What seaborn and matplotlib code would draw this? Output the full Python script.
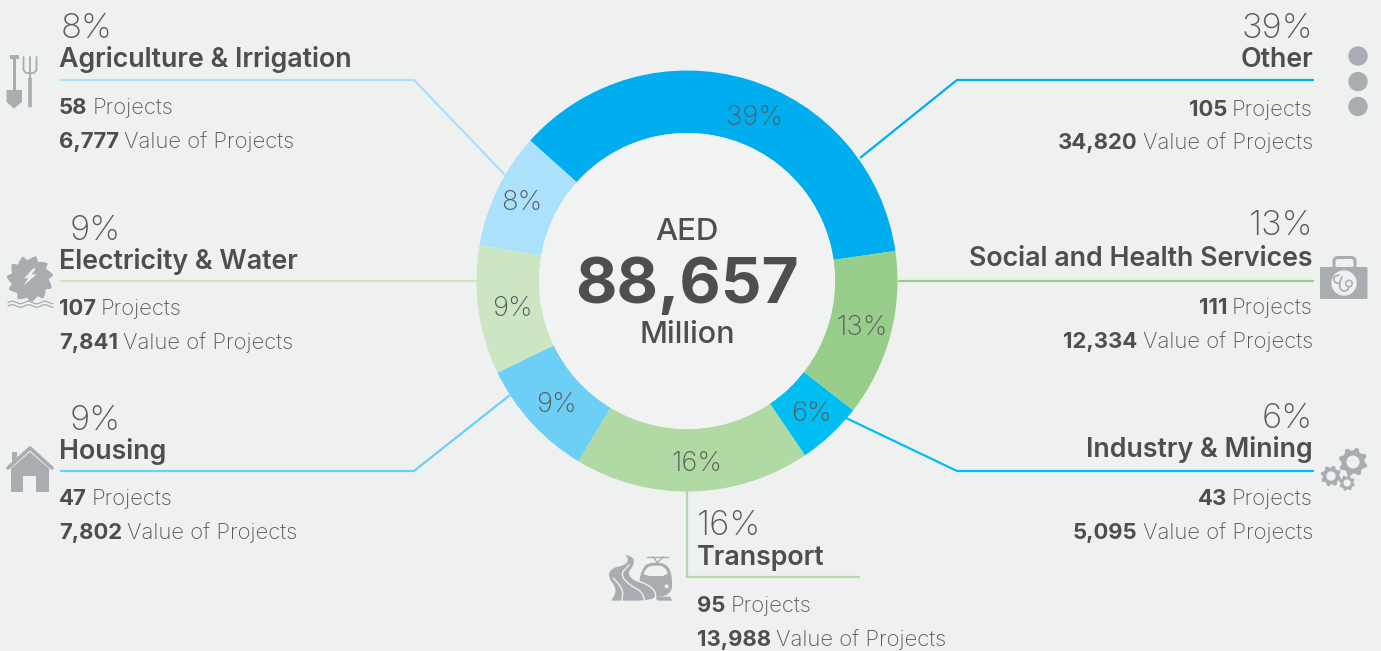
import numpy as np
from matplotlib import pyplot as plt
from matplotlib.patches import Circle, Polygon, Rectangle, FancyBboxPatch
import seaborn as sns

# ring order, counter clockwise from the right
sectors = ['Other', 'Agriculture & Irrigation', 'Electricity & Water', 'Housing',
           'Transport', 'Industry & Mining', 'Social and Health Services']
pct_labels = ['39%', '8%', '9%', '9%', '16%', '6%', '13%']
projects = ['105', '58', '107', '47', '95', '43', '111']
values = ['34,820', '6,777', '7,841', '7,802', '13,988', '5,095', '12,334']
# share of the ring as drawn (read off the arcs, not the printed percents)
arc_share = [36.1, 8.9, 9.9, 9.2, 18.1, 5.0, 12.8]
colors = ['#00aeef', '#abe1fa', '#cce5c3', '#6dcff6', '#b0d9a3', '#00bdf2', '#98ce8b']

BG = '#eff1f0'
DARK = '#4d4e50'
MID = '#58595b'
ICON = '#a7adb0'
FONT = 'Inter'

sns.set_theme(style='white', rc={'figure.facecolor': BG, 'axes.facecolor': 'none'})
plt.rcParams['font.family'] = [FONT, 'DejaVu Sans']
W, H = 1381, 651
fig = plt.figure(figsize=(W / 100, H / 100), dpi=100)

# ring
cx, cy, r_out, r_in = 687, 281, 210.5, 148
pie_ax = fig.add_axes([(cx - r_out) / W, 1 - (cy + r_out) / H, 2 * r_out / W, 2 * r_out / H])
pie_ax.pie(arc_share, colors=sns.color_palette(colors), startangle=8.2, counterclock=True, radius=1,
           wedgeprops={'width': 1 - r_in / r_out, 'linewidth': 0})
pie_ax.add_patch(Circle((0, 0), r_in / r_out, fc='#f1f2f2', ec='none'))
pie_ax.set_xlim(-1, 1)
pie_ax.set_ylim(-1, 1)
pie_ax.axis('off')

# everything else in picture pixels
ax = fig.add_axes([0, 0, 1, 1], zorder=3)
ax.set_xlim(0, W)
ax.set_ylim(H, 0)
ax.axis('off')
rend = fig.canvas.get_renderer()


def txt(x, y, s, size, weight='normal', color=DARK, ha='left'):
    return ax.text(x, y + 0.8, s, fontsize=size, fontweight=weight, color=color, ha=ha, va='baseline')


def mixed(x, y, num, rest, ha='left', size=15.9):
    # bold number followed by a regular word
    if ha == 'left':
        t = txt(x, y, num, size, 'bold')
        x1 = t.get_window_extent(rend).x1
        txt(x1 + 5, y, rest, size, 'light', MID)
    else:
        t = txt(x, y, rest, size, 'light', MID, ha='right')
        x0 = t.get_window_extent(rend).x0
        txt(x0 - 5, y, num, size, 'bold', ha='right')


# x, pct x, pct base, name base, line 1 base, line 2 base, align
blocks = {
    'Other': (1313, 1313, 37, 66, 115, 148, 'right'),
    'Agriculture & Irrigation': (59, 61, 37, 66, 113, 147, 'left'),
    'Electricity & Water': (59, 70, 239, 268, 314, 348, 'left'),
    'Housing': (59, 70, 429, 458, 504, 538, 'left'),
    'Transport': (697, 697, 534, 564, 611, 645, 'left'),
    'Industry & Mining': (1313, 1313, 427, 456, 504, 538, 'right'),
    'Social and Health Services': (1313, 1313, 234, 265, 313, 347, 'right'),
}
for i, name in enumerate(sectors):
    x, px, b0, b1, b2, b3, ha = blocks[name]
    txt(px, b0, pct_labels[i], 25, 'light', MID, ha=ha)
    txt(x, b1, name, 19.3, 'semibold', ha=ha)
    mixed(x, b2, projects[i], 'Projects', ha)
    mixed(x, b3, values[i], 'Value of Projects', ha)

# leader lines
leaders = [
    ([1314, 957, 860], [80, 80, 158]),
    ([60, 414, 505], [80, 80, 175]),
    ([60, 477], [281, 281]),
    ([60, 414, 510], [471, 471, 395]),
    ([687, 687, 860], [491, 577, 577]),
    ([1314, 957, 846], [471, 471, 418]),
    ([1314, 898], [281, 281]),
]
for c, (lx, ly) in zip(colors, leaders):
    ax.plot(lx, ly, color=c, lw=1.6, solid_joinstyle='miter', solid_capstyle='butt')

# ring labels
ring_pos = [(755, 118), (522, 203), (512, 309), (556, 405), (697, 464), (811, 414), (862, 328)]
for s, (x, y) in zip(pct_labels, ring_pos):
    ax.text(x, y, s, fontsize=19.8, fontweight='light', color=MID, ha='center', va='center')

# centre
txt(687, 239, 'AED', 22.5, 'medium', ha='center')
txt(687, 302, '88,657', 46, 'bold', ha='center')
txt(687, 342, 'Million', 22, 'medium', ha='center')


# icons
def smooth(pts, n=3):
    # corner cutting so the hand read outlines come out curved
    p = np.asarray(pts, float)
    for _ in range(n):
        q = np.roll(p, -1, axis=0)
        p = np.c_[0.75 * p + 0.25 * q, 0.25 * p + 0.75 * q].reshape(-1, 2)
    return p


def smooth_open(pts, n=3):
    p = np.asarray(pts, float)
    for _ in range(n):
        a, b = p[:-1], p[1:]
        p = np.vstack([p[:1], np.c_[0.75 * a + 0.25 * b, 0.25 * a + 0.75 * b].reshape(-1, 2), p[-1:]])
    return p


def gear(x, y, r, teeth=8, hole=0.45):
    a = np.linspace(0, 2 * np.pi, teeth * 4, endpoint=False) + 0.2
    rad = np.where(np.arange(teeth * 4) % 4 < 2, r, r * 0.8)
    ax.add_patch(Polygon(np.c_[x + rad * np.cos(a), y + rad * np.sin(a)], fc=ICON, ec='none'))
    ax.add_patch(Circle((x, y), r * hole, fc=BG, ec='none'))


def road_xy(pts):
    return [(600 + p / 3, 548 + q / 3) for p, q in pts]


for yy in (56, 81.5, 106.5):
    ax.add_patch(Circle((1358, yy), 9.7, fc=ICON, ec='none'))

# shovel and fork
ax.add_patch(Rectangle((10, 55), 9, 3.5, fc=ICON, ec='none'))
ax.add_patch(Rectangle((13, 57), 3.5, 33, fc=ICON, ec='none'))
ax.add_patch(Polygon([(6.5, 90), (22, 90), (22, 102), (14, 108.5), (6.5, 102)], fc=ICON, ec='none'))
ax.plot([23.5, 23.5, 26, 34, 36.5, 36.5], [57, 70, 73, 73, 70, 57], color=ICON, lw=1.3)
ax.plot([30, 30], [57, 78], color=ICON, lw=1.3)
ax.add_patch(FancyBboxPatch((28.5, 78), 3, 29, boxstyle='round,pad=0.3', fc=ICON, ec='none'))

# blade with bolt and waves
a = np.linspace(0, 2 * np.pi, 44, endpoint=False)
rad = 18.5 + 5.5 * ((np.arange(44) % 4) / 3)
blade = np.c_[30 + rad * np.cos(a), 279 + rad * np.sin(a)]
ax.add_patch(Polygon(smooth(blade, 1), fc=ICON, ec='none'))
bolt = [(100, 70), (72, 100), (85, 100), (70, 122), (110, 88), (95, 88), (108, 70)]
ax.add_patch(Polygon([(p / 3, 245 + q / 3) for p, q in bolt], fc=BG, ec='none'))
wx = np.arange(8, 54)
for wy in (302.5, 306):
    ax.plot(wx, wy + 1.3 * np.sin(wx / 2.6), color=ICON, lw=0.9)

# house
ax.add_patch(Polygon([(11, 466), (30, 450), (49, 466), (49, 492), (36, 492), (36, 476), (23, 476), (23, 492), (11, 492)],
                     fc=ICON, ec='none'))
ax.add_patch(Rectangle((12, 452), 5, 11, fc=ICON, ec='none'))
ax.plot([6, 30, 54], [470, 449, 470], color=BG, lw=3.2, solid_capstyle='butt')
ax.plot([8, 30, 52], [468, 448, 468], color=ICON, lw=2.6, solid_capstyle='round')

# briefcase
ax.add_patch(FancyBboxPatch((1334, 257.5), 21, 12, boxstyle='round,pad=0,rounding_size=4', fc='none', ec=ICON, lw=2.2))
ax.add_patch(FancyBboxPatch((1320, 267), 47.5, 32, boxstyle='round,pad=0,rounding_size=1.5', fc=ICON, ec='none'))
ax.add_patch(Circle((1344, 283), 12.7, fc=BG, ec='none'))
tube = smooth_open([(1339, 275), (1333, 277), (1335, 283), (1340, 283)], 3)
ax.plot(tube[:, 0], tube[:, 1], color=ICON, lw=1.2)
tube = smooth_open([(1342, 277), (1339, 284), (1341, 291), (1347, 291), (1349, 287)], 3)
ax.plot(tube[:, 0], tube[:, 1], color=ICON, lw=1.2)
ax.add_patch(Circle((1349, 283.5), 3.2, fc='none', ec=ICON, lw=1.1))

# gears
gear(1353, 462, 14.5, 8)
gear(1331, 476, 10.5, 8)
gear(1347, 483, 8, 8)

# road and train
train = [(128, 60), (145, 44), (195, 44), (216, 75), (216, 146), (125, 146), (116, 100)]
ax.add_patch(Polygon(road_xy(smooth(train, 2)), fc=ICON, ec='none', zorder=2))
ax.add_patch(Polygon(road_xy(smooth([(135, 66), (150, 53), (192, 53), (208, 84), (130, 84)], 1)), fc=BG, ec='none', zorder=2))
ax.add_patch(Circle(road_xy([(200, 115)])[0], 2, fc=BG, ec='none', zorder=2))
ax.add_patch(Polygon(road_xy([(165, 146), (210, 146), (217, 158), (172, 158)]), fc=ICON, ec='none', zorder=2))
for pts in ([(140, 26), (205, 26)], [(160, 26), (172, 44), (190, 26)]):
    px = road_xy(pts)
    ax.plot([p[0] for p in px], [p[1] for p in px], color=ICON, lw=1, zorder=2)
road = [(68, 15), (105, 28), (102, 55), (85, 75), (100, 95), (140, 108), (168, 130), (165, 160), (30, 160), (30, 160),
        (50, 125), (20, 85), (35, 58), (72, 50), (85, 35)]
ax.add_patch(Polygon(road_xy(smooth(road, 2)), fc=ICON, ec=BG, lw=1, zorder=3))
for pts in ([(88, 50), (60, 80), (90, 112), (125, 130), (135, 160)], [(65, 160), (70, 125), (40, 90)]):
    lane = np.array(road_xy(smooth_open(pts, 3)))
    ax.plot(lane[:, 0], lane[:, 1], color=BG, lw=1, zorder=5)

fig.savefig('out.png', dpi=100, facecolor=BG)
